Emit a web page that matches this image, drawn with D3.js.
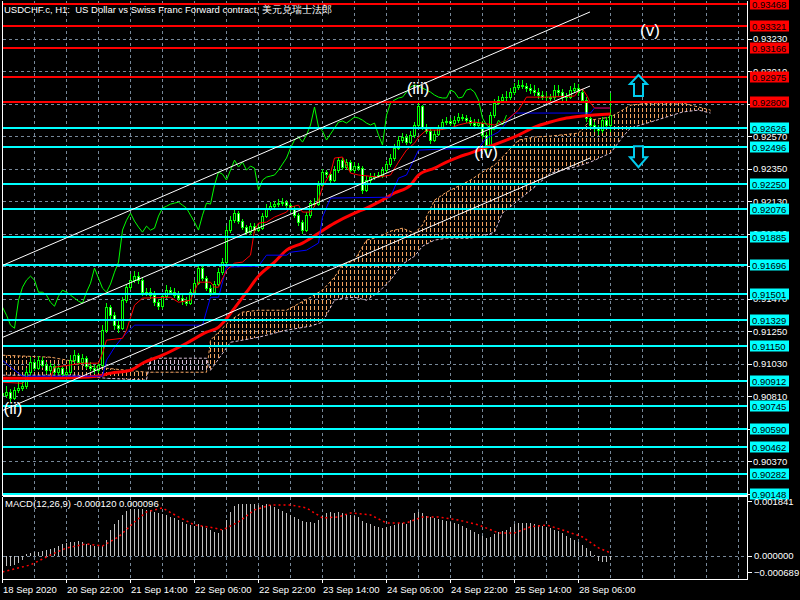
<!DOCTYPE html>
<html><head><meta charset="utf-8">
<script src="https://cdn.jsdelivr.net/npm/d3@7"></script>
<style>
html,body{margin:0;padding:0;background:#000;}
svg{display:block;}
text{font-family:"Liberation Sans",Arial,sans-serif;}
</style></head><body>
<svg id="c" width="800" height="600"></svg>
<script>
// ---------------- DATA ----------------
const chartTitle = "USDCHF.c, H1:  US Dollar vs Swiss Franc Forward contract, 美元兑瑞士法郎";
const macdTitle = "MACD(12,26,9) -0.000120 0.000096";
const timeLabels = ["18 Sep 2020","20 Sep 22:00","21 Sep 14:00","22 Sep 06:00","22 Sep 22:00","23 Sep 14:00","24 Sep 06:00","24 Sep 22:00","25 Sep 14:00","28 Sep 06:00"];
const timeLabelBars = [0,16,32,48,64,80,96,112,128,144];
const gridPrices = [0.93230,0.93010,0.92790,0.92570,0.92350,0.92130,0.91910,0.91690,0.91470,0.91250,0.91030,0.90810,0.90590,0.90370,0.90150];
const macdTicks = [0.001841,0.000000,-0.000689];

const opens = [
0.90830,0.90816,0.90836,0.90796,0.90850,0.90863,0.90877,0.90972,0.91040,0.90999,
0.91053,0.91019,0.90985,0.91013,0.90972,0.90999,0.90958,0.90972,0.91053,0.91087,
0.91040,0.91067,0.91013,0.90999,0.90985,0.91019,0.91257,0.91413,0.91358,0.91291,
0.91270,0.91460,0.91548,0.91596,0.91623,0.91596,0.91514,0.91514,0.91494,0.91446,
0.91419,0.91487,0.91528,0.91514,0.91494,0.91474,0.91453,0.91440,0.91514,0.91575,
0.91677,0.91609,0.91541,0.91514,0.91569,0.91650,0.91718,0.91935,0.92002,0.92050,
0.91996,0.91955,0.91921,0.91962,0.91935,0.91948,0.92030,0.92084,0.92097,0.92111,
0.92118,0.92124,0.92104,0.92084,0.92036,0.91989,0.91935,0.92036,0.92118,0.92111,
0.92240,0.92328,0.92314,0.92274,0.92341,0.92409,0.92362,0.92396,0.92341,0.92369,
0.92355,0.92206,0.92274,0.92294,0.92301,0.92308,0.92341,0.92382,0.92423,0.92491,
0.92545,0.92565,0.92531,0.92579,0.92647,0.92769,0.92633,0.92606,0.92545,0.92586,
0.92626,0.92667,0.92674,0.92660,0.92680,0.92701,0.92694,0.92680,0.92660,0.92647,
0.92660,0.92579,0.92511,0.92714,0.92796,0.92816,0.92830,0.92836,0.92870,0.92904,
0.92918,0.92911,0.92897,0.92884,0.92870,0.92850,0.92836,0.92830,0.92830,0.92884,
0.92870,0.92830,0.92836,0.92884,0.92891,0.92870,0.92816,0.92694,0.92647,0.92626,
0.92613,0.92680,0.92647];
const highs = [
0.90870,0.90880,0.90860,0.90875,0.90905,0.90910,0.91000,0.91075,0.91060,0.91085,
0.91075,0.91040,0.91035,0.91030,0.91020,0.91015,0.90995,0.91090,0.91120,0.91100,
0.91095,0.91080,0.91040,0.91020,0.91040,0.91290,0.91440,0.91430,0.91380,0.91320,
0.91480,0.91570,0.91640,0.91660,0.91650,0.91610,0.91540,0.91545,0.91520,0.91470,
0.91510,0.91560,0.91550,0.91540,0.91520,0.91495,0.91480,0.91535,0.91600,0.91700,
0.91690,0.91625,0.91560,0.91590,0.91675,0.91745,0.91960,0.92030,0.92080,0.92065,
0.92010,0.91970,0.91985,0.91980,0.91970,0.92050,0.92110,0.92125,0.92135,0.92145,
0.92150,0.92140,0.92120,0.92100,0.92050,0.92000,0.92055,0.92140,0.92150,0.92265,
0.92350,0.92345,0.92330,0.92370,0.92430,0.92425,0.92420,0.92410,0.92395,0.92390,
0.92370,0.92300,0.92320,0.92325,0.92330,0.92365,0.92405,0.92450,0.92515,0.92570,
0.92595,0.92585,0.92605,0.92670,0.92795,0.92785,0.92655,0.92625,0.92610,0.92650,
0.92690,0.92700,0.92695,0.92705,0.92725,0.92720,0.92715,0.92700,0.92685,0.92685,
0.92675,0.92600,0.92735,0.92820,0.92845,0.92860,0.92880,0.92900,0.92935,0.92955,
0.92950,0.92935,0.92925,0.92915,0.92900,0.92880,0.92870,0.92860,0.92915,0.92915,
0.92890,0.92865,0.92910,0.92935,0.92925,0.92890,0.92840,0.92720,0.92670,0.92650,
0.92700,0.92700,0.92864];
const lows = [
0.90790,0.90800,0.90770,0.90785,0.90830,0.90845,0.90860,0.90955,0.90980,0.90985,
0.91000,0.90960,0.90965,0.90950,0.90955,0.90935,0.90940,0.90960,0.91035,0.91020,
0.91025,0.90995,0.90980,0.90960,0.90970,0.91000,0.91240,0.91330,0.91260,0.91240,
0.91255,0.91440,0.91530,0.91575,0.91570,0.91490,0.91490,0.91470,0.91420,0.91395,
0.91400,0.91470,0.91495,0.91475,0.91455,0.91430,0.91420,0.91425,0.91500,0.91560,
0.91590,0.91520,0.91490,0.91500,0.91555,0.91630,0.91700,0.91915,0.91985,0.91975,
0.91935,0.91900,0.91905,0.91915,0.91920,0.91935,0.92015,0.92065,0.92080,0.92090,
0.92095,0.92085,0.92060,0.92015,0.91965,0.91910,0.91920,0.92020,0.92090,0.92095,
0.92225,0.92290,0.92250,0.92260,0.92325,0.92340,0.92345,0.92320,0.92325,0.92335,
0.92180,0.92190,0.92255,0.92275,0.92285,0.92290,0.92325,0.92365,0.92405,0.92475,
0.92525,0.92510,0.92515,0.92560,0.92630,0.92610,0.92585,0.92520,0.92530,0.92570,
0.92610,0.92645,0.92640,0.92640,0.92660,0.92675,0.92660,0.92640,0.92625,0.92630,
0.92555,0.92460,0.92495,0.92695,0.92780,0.92800,0.92810,0.92815,0.92850,0.92885,
0.92890,0.92870,0.92860,0.92845,0.92825,0.92815,0.92805,0.92805,0.92815,0.92845,
0.92810,0.92805,0.92820,0.92865,0.92845,0.92795,0.92670,0.92620,0.92600,0.92580,
0.92595,0.92625,0.92599];
const closes = [
0.90816,0.90836,0.90796,0.90850,0.90863,0.90877,0.90972,0.91040,0.90999,0.91053,
0.91019,0.90985,0.91013,0.90972,0.90999,0.90958,0.90972,0.91053,0.91087,0.91040,
0.91067,0.91013,0.90999,0.90985,0.91019,0.91257,0.91413,0.91358,0.91291,0.91270,
0.91460,0.91548,0.91596,0.91623,0.91596,0.91514,0.91514,0.91494,0.91446,0.91419,
0.91487,0.91528,0.91514,0.91494,0.91474,0.91453,0.91440,0.91514,0.91575,0.91677,
0.91609,0.91541,0.91514,0.91569,0.91650,0.91718,0.91935,0.92002,0.92050,0.91996,
0.91955,0.91921,0.91962,0.91935,0.91948,0.92030,0.92084,0.92097,0.92111,0.92118,
0.92124,0.92104,0.92084,0.92036,0.91989,0.91935,0.92036,0.92118,0.92111,0.92240,
0.92328,0.92314,0.92274,0.92341,0.92409,0.92362,0.92396,0.92341,0.92369,0.92355,
0.92206,0.92274,0.92294,0.92301,0.92308,0.92341,0.92382,0.92423,0.92491,0.92545,
0.92565,0.92531,0.92579,0.92647,0.92769,0.92633,0.92606,0.92545,0.92586,0.92626,
0.92667,0.92674,0.92660,0.92680,0.92701,0.92694,0.92680,0.92660,0.92647,0.92660,
0.92579,0.92511,0.92714,0.92796,0.92816,0.92830,0.92836,0.92870,0.92904,0.92918,
0.92911,0.92897,0.92884,0.92870,0.92850,0.92836,0.92830,0.92830,0.92884,0.92870,
0.92830,0.92836,0.92884,0.92891,0.92870,0.92816,0.92694,0.92647,0.92626,0.92613,
0.92680,0.92647,0.92714];
const chikouShift = 26;

const tenkanBars = [0,5,6,12,13,20,24,25,26,30,31,33,35,42,44,47,49,52,53,54,56,58,60,62,63,64,66,68,71,72,74,75,77,79,80,82,83,85,87,89,94,97,99,101,103,104,106,109,112,114,116,118,123,126,129,131,136,143,144,145,146,147,148,152];
const tenkanVals = [0.90904,0.90897,0.90924,0.90931,0.91006,0.91033,0.91033,0.91101,0.91189,0.91202,
0.91257,0.91426,0.91474,0.91480,0.91446,0.91460,0.91582,0.91582,0.91548,0.91548,
0.91663,0.91711,0.91718,0.91765,0.91935,0.91982,0.91989,0.92023,0.92057,0.92091,
0.92104,0.92057,0.92057,0.92138,0.92226,0.92321,0.92423,0.92430,0.92321,0.92308,
0.92294,0.92308,0.92396,0.92477,0.92524,0.92565,0.92613,0.92613,0.92626,0.92647,
0.92660,0.92667,0.92647,0.92680,0.92748,0.92836,0.92836,0.92843,0.92877,0.92891,
0.92850,0.92796,0.92762,0.92762];
const kijunBars = [0,2,5,25,26,28,30,33,50,52,54,56,64,66,71,72,76,79,80,82,97,99,101,104,117,119,121,124,128,147,148,152];
const kijunVals = [0.91053,0.91006,0.90945,0.90945,0.91053,0.91141,0.91209,0.91291,0.91291,0.91480,
0.91480,0.91684,0.91691,0.91765,0.91765,0.91785,0.91799,0.91847,0.92023,0.92152,
0.92158,0.92287,0.92308,0.92477,0.92491,0.92491,0.92558,0.92599,0.92728,0.92728,
0.92762,0.92762];
const maBars = [0,10,20,25,27,32,35,40,46,51,54,58,61,64,68,71,75,79,83,88,91,94,98,102,104,108,111,114,117,119,124,129,133,137,141,145,152];
const maVals = [0.90931,0.90931,0.90938,0.90952,0.90965,0.90985,0.91033,0.91087,0.91168,0.91243,
0.91277,0.91406,0.91514,0.91623,0.91718,0.91799,0.91847,0.91914,0.91982,0.92050,
0.92084,0.92124,0.92186,0.92240,0.92308,0.92355,0.92396,0.92430,0.92457,0.92477,
0.92524,0.92579,0.92633,0.92667,0.92694,0.92708,0.92721];
const spanBars = [0,12,19,20,26,36,37,51,52,57,60,64,71,77,80,83,85,88,91,94,97,100,103,105,108,111,114,117,120,123,125,129,133,137,144,147,152,155,157,162,166,170,174,177];
const spanA = [0.91087,0.91074,0.91040,0.91019,0.90999,0.90972,0.90972,0.90972,0.91189,0.91324,
0.91379,0.91392,0.91392,0.91480,0.91528,0.91616,0.91697,0.91731,0.91867,0.91887,
0.91928,0.91948,0.91914,0.91969,0.92138,0.92192,0.92233,0.92274,0.92328,0.92375,
0.92430,0.92545,0.92565,0.92572,0.92592,0.92680,0.92701,0.92748,0.92782,0.92796,
0.92796,0.92796,0.92769,0.92748];
const spanB = [0.90952,0.90952,0.90952,0.90945,0.90931,0.90918,0.91067,0.91067,0.90985,0.91175,
0.91189,0.91209,0.91257,0.91284,0.91311,0.91460,0.91474,0.91480,0.91460,0.91514,
0.91596,0.91704,0.91758,0.91826,0.91867,0.91880,0.91880,0.91880,0.91894,0.91921,
0.92050,0.92138,0.92226,0.92321,0.92369,0.92396,0.92457,0.92565,0.92626,0.92667,
0.92701,0.92735,0.92748,0.92728];

const macdHist = [
-0.000344,-0.000312,-0.000312,-0.000281,-0.000219,-0.000125,0.000062,0.000094,0.000125,0.000125,
0.000156,0.000187,0.000219,0.000250,0.000312,0.000375,0.000406,0.000437,0.000437,0.000468,
0.000437,0.000375,0.000344,0.000312,0.000281,0.000312,0.000500,0.000812,0.000999,0.001124,
0.001280,0.001405,0.001468,0.001468,0.001468,0.001468,0.001437,0.001437,0.001374,0.001343,
0.001312,0.001280,0.001218,0.001187,0.001124,0.001062,0.000999,0.000968,0.000937,0.000999,
0.000937,0.000874,0.000812,0.000750,0.000718,0.000812,0.001124,0.001374,0.001562,0.001624,
0.001624,0.001624,0.001624,0.001624,0.001593,0.001593,0.001624,0.001593,0.001530,0.001468,
0.001405,0.001343,0.001280,0.001218,0.001156,0.001093,0.001062,0.001062,0.001031,0.001124,
0.001249,0.001343,0.001374,0.001343,0.001374,0.001343,0.001312,0.001280,0.001249,0.001218,
0.001093,0.001031,0.000999,0.000937,0.000906,0.000874,0.000906,0.000937,0.000968,0.001031,
0.001031,0.000999,0.001124,0.001343,0.001374,0.001343,0.001249,0.001218,0.001187,0.001156,
0.001124,0.001093,0.001062,0.001031,0.000999,0.000937,0.000874,0.000812,0.000750,0.000687,
0.000625,0.000562,0.000593,0.000687,0.000750,0.000781,0.000812,0.000906,0.000999,0.001031,
0.001031,0.001031,0.001031,0.000999,0.000968,0.000937,0.000906,0.000874,0.000812,0.000781,
0.000718,0.000625,0.000562,0.000500,0.000437,0.000344,0.000250,0.000156,0.000031,-0.000156,
-0.000187,-0.000187,-0.000120];
const signalBars = [0,7,12,16,21,25,29,33,36,40,44,48,53,55,59,63,67,72,76,80,84,87,92,96,101,105,109,114,119,124,128,132,136,140,145,149,152];
const signalVals = [-0.000500,-0.000281,0.000031,0.000250,0.000375,0.000312,0.000593,0.001062,0.001374,0.001499,
0.001218,0.000968,0.000874,0.000812,0.001062,0.001437,0.001593,0.001593,0.001499,0.001187,
0.001218,0.001343,0.001280,0.001031,0.001031,0.001218,0.001218,0.001124,0.000968,0.000718,
0.000718,0.000906,0.000968,0.000812,0.000593,0.000250,0.000096];

const levelPrices = [0.93468,0.93321,0.93166,0.92975,0.92800,0.92626,0.92496,0.92250,0.92076,0.91885,0.91696,0.91501,0.91329,0.91150,0.90912,0.90745,0.90590,0.90462,0.90282,0.90148];
const levelKinds = ["res","res","res","res","res","sup","sup","sup","sup","sup","sup","sup","sup","sup","sup","sup","sup","sup","sup","sup"];
const trendLines = [[0,0.91697,147,0.93413],[0,0.91209,147,0.92911],[0,0.90714,147,0.92423]];
const waveLabels = ["(ii)","(iii)","(iv)","(v)"];
const waveBars = [2.75,104,121,162];
const wavePrices = [0.90728,0.92897,0.92463,0.93291];
const arrowDirs = ["up","down"];
const arrowBars = [159,159];
const arrowPrices = [0.92911,0.92436];

// ---------------- DRAW ----------------
const svg = d3.select("#c");
svg.append("rect").attr("width",800).attr("height",600).attr("fill","#000");
const defs = svg.append("defs");
defs.append("clipPath").attr("id","clipMain").append("rect").attr("x",3).attr("y",1).attr("width",744).attr("height",494);
defs.append("clipPath").attr("id","clipMacd").append("rect").attr("x",3).attr("y",497).attr("width",744).attr("height",82);
function hatch(id,color){
  const p = defs.append("pattern").attr("id",id).attr("patternUnits","userSpaceOnUse")
    .attr("x",0).attr("y",0).attr("width",4).attr("height",6);
  p.append("rect").attr("x",2).attr("y",0).attr("width",1).attr("height",4).attr("fill",color);
}
hatch("hSandy","#F4A460"); hatch("hThistle","#D8BFD8");

const xBar = d3.scaleLinear().domain([0,186]).range([2,746]);
const yPrice = d3.scaleLinear().domain([0.90140,0.93494]).range([495,0]);
const yMacd = d3.scaleLinear().domain([-0.000689,0.001841]).range([578,497]);
const GRID = "#778899";
const fmt5 = d3.format(".5f"), fmt6 = d3.format(".6f");

// grid
const gridG = svg.append("g").attr("shape-rendering","crispEdges");
const vGrid = d3.range(8,186,8);
gridG.selectAll("line.vm").data(vGrid).join("line")
  .attr("x1",d=>xBar(d)+0.5).attr("x2",d=>xBar(d)+0.5).attr("y1",1).attr("y2",495)
  .attr("stroke",GRID).attr("stroke-dasharray","3,3");
gridG.selectAll("line.vs").data(vGrid).join("line")
  .attr("x1",d=>xBar(d)+0.5).attr("x2",d=>xBar(d)+0.5).attr("y1",497).attr("y2",579)
  .attr("stroke",GRID).attr("stroke-dasharray","3,3");
gridG.selectAll("line.h").data(gridPrices).join("line")
  .attr("x1",3).attr("x2",747).attr("y1",d=>Math.round(yPrice(d))+0.5).attr("y2",d=>Math.round(yPrice(d))+0.5)
  .attr("stroke",GRID).attr("stroke-dasharray","3,3");
gridG.append("line").attr("x1",3).attr("x2",747).attr("y1",Math.round(yMacd(0))+0.5).attr("y2",Math.round(yMacd(0))+0.5)
  .attr("stroke",GRID).attr("stroke-dasharray","3,3");

// main panel
const main = svg.append("g").attr("clip-path","url(#clipMain)");

// Ichimoku cloud
const cloud = spanBars.map((b,i)=>({b:b,a:spanA[i],s:spanB[i]}));
const cx = d=>xBar(d.b)+0.5;
defs.append("clipPath").attr("id","clipAboveB").append("path")
  .attr("d",d3.area().x(cx).y0(0).y1(d=>yPrice(d.s))(cloud));
defs.append("clipPath").attr("id","clipBelowB").append("path")
  .attr("d",d3.area().x(cx).y0(d=>yPrice(d.s)).y1(600)(cloud));
const areaAB = d3.area().x(cx).y0(d=>yPrice(d.s)).y1(d=>yPrice(d.a));
main.append("g").attr("clip-path","url(#clipAboveB)").append("path").attr("d",areaAB(cloud)).attr("fill","url(#hSandy)");
main.append("g").attr("clip-path","url(#clipBelowB)").append("path").attr("d",areaAB(cloud)).attr("fill","url(#hThistle)");
main.append("path").attr("d",d3.line().x(cx).y(d=>yPrice(d.a))(cloud))
  .attr("fill","none").attr("stroke","#F4A460").attr("stroke-dasharray","3,2");
main.append("path").attr("d",d3.line().x(cx).y(d=>yPrice(d.s))(cloud))
  .attr("fill","none").attr("stroke","#D8BFD8").attr("stroke-dasharray","3,2");

// candles
const idx = d3.range(closes.length);
const cg = main.append("g").attr("shape-rendering","crispEdges");
cg.selectAll("line.w").data(idx).join("line")
  .attr("x1",i=>xBar(i)+0.5).attr("x2",i=>xBar(i)+0.5)
  .attr("y1",i=>yPrice(highs[i])).attr("y2",i=>yPrice(lows[i])).attr("stroke","#00FF00");
cg.selectAll("rect.b").data(idx).join("rect")
  .attr("x",i=>xBar(i)-0.5).attr("width",2)
  .attr("y",i=>yPrice(Math.max(opens[i],closes[i])))
  .attr("height",i=>Math.max(0.01,yPrice(Math.min(opens[i],closes[i]))-yPrice(Math.max(opens[i],closes[i]))))
  .attr("fill",i=>closes[i]>=opens[i]?"#000":"#FFF").attr("stroke","#00FF00");

// lines
const ptLine = (bars,vals)=>d3.line()(bars.map((b,i)=>[xBar(b)+0.5,yPrice(vals[i])]));
main.append("path").attr("d",d3.line().curve(d3.curveMonotoneX)(maBars.map((b,i)=>[xBar(b)+0.5,yPrice(maVals[i])])))
  .attr("fill","none").attr("stroke","#FF0000").attr("stroke-width",3);
main.append("path").attr("d",ptLine(kijunBars,kijunVals)).attr("fill","none").attr("stroke","#0000FF");
main.append("path").attr("d",ptLine(tenkanBars,tenkanVals)).attr("fill","none").attr("stroke","#FF0000");
// chikou span (closes plotted 26 bars back)
main.append("path").attr("d",d3.line()(idx.filter(i=>i>=chikouShift).map(i=>[xBar(i-chikouShift)+0.5,yPrice(closes[i])])))
  .attr("fill","none").attr("stroke","#00FF00");

// levels
const levelColor = k=>k==="res"?"#FF0000":"#00FFFF";
main.selectAll("line.lv").data(levelPrices).join("line")
  .attr("x1",3).attr("x2",747).attr("y1",d=>Math.round(yPrice(d))).attr("y2",d=>Math.round(yPrice(d)))
  .attr("stroke",(d,i)=>levelColor(levelKinds[i])).attr("stroke-width",2).attr("shape-rendering","crispEdges");

// trend lines
main.selectAll("line.tr").data(trendLines).join("line")
  .attr("x1",d=>xBar(d[0])+1).attr("y1",d=>yPrice(d[1])).attr("x2",d=>xBar(d[2])).attr("y2",d=>yPrice(d[3]))
  .attr("stroke","#FFFFFF").attr("stroke-width",1);

// wave labels
main.selectAll("text.wv").data(waveLabels).join("text")
  .attr("x",(d,i)=>xBar(waveBars[i])).attr("y",(d,i)=>yPrice(wavePrices[i])+6)
  .attr("text-anchor","middle").attr("font-size",17).attr("fill","#FFFFFF").text(d=>d);

// arrows
const upShape = [[0,-11],[8.5,-2],[4.5,-2],[4.5,10],[-4.5,10],[-4.5,-2],[-8.5,-2]];
const dnShape = [[0,11],[8.5,1],[4.5,1],[4.5,-10],[-4.5,-10],[-4.5,1],[-8.5,1]];
main.selectAll("path.ar").data(arrowDirs).join("path")
  .attr("d",(d,i)=>{const x0=xBar(arrowBars[i])+0.5,y0=yPrice(arrowPrices[i]);
     return d3.line()((d==="up"?upShape:dnShape).map(p=>[x0+p[0],y0+p[1]]))+"Z";})
  .attr("fill","#000").attr("stroke","#00CCEE").attr("stroke-width",2).attr("stroke-linejoin","miter");

// MACD panel
const sub = svg.append("g").attr("clip-path","url(#clipMacd)");
sub.append("g").attr("shape-rendering","crispEdges").selectAll("line").data(idx).join("line")
  .attr("x1",i=>xBar(i)+0.5).attr("x2",i=>xBar(i)+0.5)
  .attr("y1",yMacd(0)).attr("y2",i=>yMacd(macdHist[i])).attr("stroke","#C0C0C0");
sub.append("path").attr("d",d3.line()(signalBars.map((b,i)=>[xBar(b)+0.5,yMacd(signalVals[i])])))
  .attr("fill","none").attr("stroke","#FF0000").attr("stroke-width",1.5).attr("stroke-dasharray","2,3");

// frames
const fr = svg.append("g").attr("stroke","#FFFFFF").attr("fill","none").attr("shape-rendering","crispEdges");
fr.append("path").attr("d","M2.5,0.5V495.5M747.5,0.5V579.5M2.5,495.5H747.5M2.5,496.5V579.5H747.5M2.5,496.5H747.5");

// price axis labels (grid labels fully covered by a level label are not visible in the chart)
const ax = svg.append("g");
const visibleGrid = gridPrices.filter(g=>!levelPrices.some(l=>Math.abs(l-g)<0.00015));
ax.selectAll("line.t").data(gridPrices).join("line")
  .attr("x1",748).attr("x2",752).attr("y1",d=>Math.round(yPrice(d))+0.5).attr("y2",d=>Math.round(yPrice(d))+0.5)
  .attr("stroke","#FFF").attr("shape-rendering","crispEdges");
ax.selectAll("text.t").data(visibleGrid).join("text")
  .attr("x",753).attr("y",d=>yPrice(d)+3.5).attr("font-size",9.5).attr("fill","#FFF").text(d=>fmt5(d));
// level boxes
const lb = ax.selectAll("g.lb").data(levelPrices).join("g")
  .attr("transform",d=>`translate(0,${Math.round(yPrice(d))})`);
lb.append("rect").attr("x",750).attr("y",-5.5).attr("width",39).attr("height",11)
  .attr("fill",(d,i)=>levelColor(levelKinds[i]));
lb.append("text").attr("x",752).attr("y",3.5).attr("font-size",9.5).attr("fill","#000").text(d=>fmt5(d));

// MACD axis
const macdLabelY = v=>Math.min(572,Math.max(501,yMacd(v)));
ax.selectAll("line.m").data(macdTicks).join("line")
  .attr("x1",748).attr("x2",752).attr("y1",d=>Math.round(macdLabelY(d))+0.5).attr("y2",d=>Math.round(macdLabelY(d))+0.5)
  .attr("stroke","#FFF").attr("shape-rendering","crispEdges");
ax.selectAll("text.m").data(macdTicks).join("text")
  .attr("x",754).attr("y",d=>macdLabelY(d)+3.5).attr("font-size",9.5).attr("fill","#FFF").text(d=>fmt6(d));

// time axis
ax.selectAll("line.x").data(timeLabelBars).join("line")
  .attr("x1",d=>xBar(d)+0.5).attr("x2",d=>xBar(d)+0.5).attr("y1",579).attr("y2",583)
  .attr("stroke","#FFF").attr("shape-rendering","crispEdges");
ax.selectAll("text.x").data(timeLabels).join("text")
  .attr("x",(d,i)=>xBar(timeLabelBars[i])+1).attr("y",593).attr("font-size",9.5).attr("fill","#FFF").text(d=>d);

// titles
svg.append("text").attr("x",4).attr("y",12.5).attr("font-size",9.5).attr("fill","#FFF")
  .style("white-space","pre").text(chartTitle);
svg.append("text").attr("x",5).attr("y",507).attr("font-size",9.5).attr("fill","#FFF").text(macdTitle);
</script>
</body></html>
